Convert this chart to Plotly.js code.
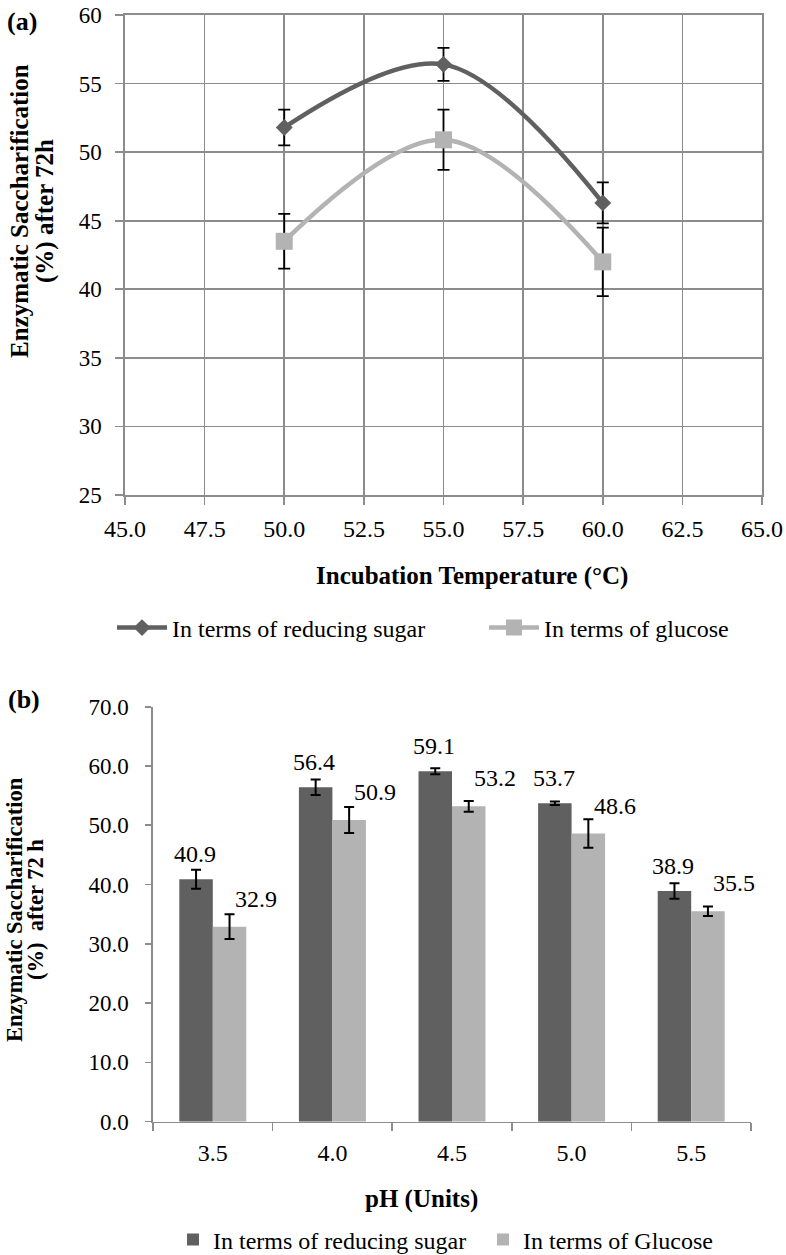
<!DOCTYPE html>
<html>
<head>
<meta charset="utf-8">
<script src="https://cdn.plot.ly/plotly-3.0.1.min.js"></script>
<style>html,body{margin:0;padding:0;background:#fff;overflow:hidden;} #chart{width:786px;height:1255px;}</style>
</head>
<body>
<div id="chart"></div>
<script>
// ---- Data: panel (a) temperature ----
const tempC = [50, 55, 60];
const reducingSugarTemp = [51.8, 56.4, 46.3];
const errReducingTemp = [1.3, 1.2, 1.5];
const glucoseTemp = [43.5, 50.9, 42.0];
const errGlucoseTemp = [2.0, 2.2, 2.5];

// ---- Data: panel (b) pH ----
const phLabels = ['3.5', '4.0', '4.5', '5.0', '5.5'];
const reducingSugarPH = [40.9, 56.4, 59.1, 53.7, 38.9];
const errReducingPH = [1.6, 1.3, 0.5, 0.3, 1.3];
const glucosePH = [32.9, 50.9, 53.2, 48.6, 35.5];
const errGlucosePH = [2.1, 2.2, 0.9, 2.4, 0.8];

const W = 786, H = 1255;
const px = x => x / W;
const py = y => 1 - y / H;

const DARK = '#606060', LIGHT = '#b3b3b3', AX = '#8c8c8c';
const FONT = 'Liberation Serif, Times New Roman, serif';
const f = (size) => ({family: FONT, size: size, color: '#000'});

const traces = [
  {
    type: 'scatter', mode: 'lines+markers', x: tempC, y: reducingSugarTemp,
    name: 'In terms of reducing sugar', xaxis: 'x', yaxis: 'y', legend: 'legend',
    line: {color: DARK, width: 4.5, shape: 'spline', smoothing: 1},
    marker: {symbol: 'diamond', size: 13, color: DARK},
    error_y: {type: 'data', array: errReducingTemp, visible: true, color: '#000', thickness: 1.8, width: 6}
  },
  {
    type: 'scatter', mode: 'lines+markers', x: tempC, y: glucoseTemp,
    name: 'In terms of glucose', xaxis: 'x', yaxis: 'y', legend: 'legend3',
    line: {color: LIGHT, width: 4.5, shape: 'spline', smoothing: 1},
    marker: {symbol: 'square', size: 17, color: LIGHT},
    error_y: {type: 'data', array: errGlucoseTemp, visible: true, color: '#000', thickness: 1.8, width: 6}
  },
  {
    type: 'bar', x: phLabels, y: reducingSugarPH, name: 'In terms of reducing sugar',
    xaxis: 'x2', yaxis: 'y2', legend: 'legend2', marker: {color: DARK},
    error_y: {type: 'data', array: errReducingPH, visible: true, color: '#000', thickness: 2, width: 5}
  },
  {
    type: 'bar', x: phLabels, y: glucosePH, name: 'In terms of Glucose',
    xaxis: 'x2', yaxis: 'y2', legend: 'legend4', marker: {color: LIGHT},
    error_y: {type: 'data', array: errGlucosePH, visible: true, color: '#000', thickness: 2, width: 5}
  }
];

const P = {xref: 'paper', yref: 'paper', showarrow: false, xanchor: 'center', yanchor: 'middle'};
const annotations = [
  Object.assign({text: '<b>(a)</b>', x: px(22), y: py(21), font: f(26)}, P),
  Object.assign({text: '<b>(b)</b>', x: px(24), y: py(700), font: f(26)}, P),
  Object.assign({text: '<b>Enzymatic Saccharification</b>', x: px(20), y: py(211), textangle: -90, font: f(25)}, P),
  Object.assign({text: '<b>(%) after 72h</b>', x: px(45), y: py(211), textangle: -90, font: f(25)}, P),
  Object.assign({text: '<b>Enzymatic Saccharification</b>', x: px(14), y: py(910), textangle: -90, font: f(22.5)}, P),
  Object.assign({text: '<b>(%)  after 72 h</b>', x: px(35), y: py(910), textangle: -90, font: f(22.5)}, P),
  Object.assign({text: '<b>Incubation Temperature (°C)</b>', x: px(472), y: py(576), font: f(25)}, P),
  Object.assign({text: '<b>pH (Units)</b>', x: px(421), y: py(1199), font: f(25)}, P)
];

phLabels.forEach((c, i) => {
  annotations.push({text: reducingSugarPH[i].toFixed(1), x: i, y: reducingSugarPH[i], xref: 'x2', yref: 'y2',
    showarrow: false, xshift: -18, yshift: 25, xanchor: 'center', yanchor: 'middle', font: f(24)});
  annotations.push({text: glucosePH[i].toFixed(1), x: i, y: glucosePH[i], xref: 'x2', yref: 'y2',
    showarrow: false, xshift: 43, yshift: 28, xanchor: 'center', yanchor: 'middle', font: f(24)});
});

const legBase = {orientation: 'h', xanchor: 'left', yanchor: 'middle', font: f(24), bgcolor: 'rgba(0,0,0,0)'};

const layout = {
  width: W, height: H,
  margin: {l: 0, r: 0, t: 0, b: 0, autoexpand: false},
  paper_bgcolor: '#fff', plot_bgcolor: '#fff',
  font: f(22),
  showlegend: true,
  barmode: 'group', bargap: 0.44, bargroupgap: 0,
  xaxis: {
    domain: [px(125), px(762)], anchor: 'y', range: [45, 65], dtick: 2.5, tick0: 45, tickformat: '.1f',
    showgrid: true, gridcolor: AX, gridwidth: 1.6, showline: true, linecolor: AX, linewidth: 1.6, mirror: true,
    ticks: 'outside', ticklen: 8, tickcolor: AX, tickwidth: 1.6, zeroline: false,
    tickfont: f(24), ticklabelstandoff: 4
  },
  yaxis: {
    domain: [py(495), py(15)], anchor: 'x', range: [25, 60], dtick: 5, tick0: 25,
    showgrid: true, gridcolor: AX, gridwidth: 1.6, showline: true, linecolor: AX, linewidth: 1.6, mirror: true,
    ticks: 'outside', ticklen: 8, tickcolor: AX, tickwidth: 1.6, zeroline: false,
    tickfont: f(23), ticklabelstandoff: 9
  },
  xaxis2: {
    domain: [px(153), px(751)], anchor: 'y2', type: 'category', range: [-0.5, 4.5],
    showgrid: false, showline: true, linecolor: AX, linewidth: 1.6,
    ticks: 'outside', tickson: 'boundaries', ticklen: 8, tickcolor: AX, tickwidth: 1.6,
    tickfont: f(24), ticklabelstandoff: 9
  },
  yaxis2: {
    domain: [py(1121.7), py(706.7)], anchor: 'x2', range: [0, 70], dtick: 10, tick0: 0, tickformat: '.1f',
    showgrid: false, showline: true, linecolor: AX, linewidth: 1.6, zeroline: false,
    ticks: 'outside', ticklen: 6, tickcolor: AX, tickwidth: 1.6,
    tickfont: f(23), ticklabelstandoff: 12
  },
  legend: Object.assign({x: px(112), y: py(628), itemwidth: 50}, legBase),
  legend3: Object.assign({x: px(484), y: py(628), itemwidth: 50}, legBase),
  legend2: Object.assign({x: px(173), y: py(1240), itemwidth: 30}, legBase),
  legend4: Object.assign({x: px(483), y: py(1240), itemwidth: 30}, legBase),
  annotations: annotations
};

Plotly.newPlot('chart', traces, layout, {staticPlot: true, displayModeBar: false});
</script>
</body>
</html>
